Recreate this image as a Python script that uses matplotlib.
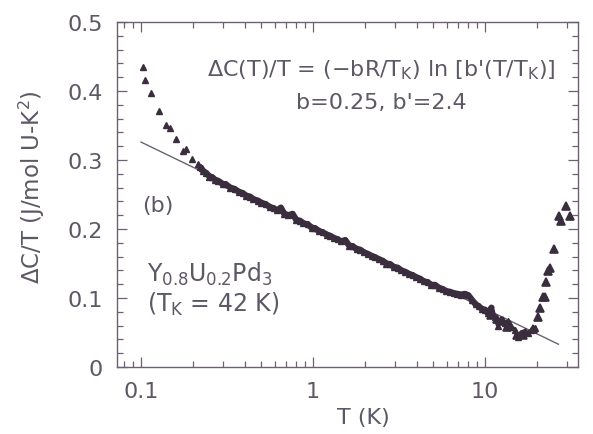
import matplotlib
matplotlib.use("Agg")
import matplotlib.pyplot as plt
from matplotlib.ticker import LogLocator, MultipleLocator, FixedLocator, NullFormatter

plt.rcParams["font.family"] = ["DejaVu Sans"]
plt.rcParams["mathtext.fontset"] = "dejavusans"

# Low-temperature upturn (K, J/mol U-K^2)
low_T = [0.102, 0.106, 0.115, 0.128, 0.139, 0.148, 0.159, 0.175, 0.183, 0.197, 0.215, 0.225]
low_y = [0.435, 0.416, 0.397, 0.371, 0.351, 0.346, 0.330, 0.313, 0.316, 0.301, 0.294, 0.289]

# Dense logarithmic region
band_T = [0.22, 0.23, 0.24, 0.25, 0.26, 0.27, 0.28, 0.30, 0.31, 0.33, 0.35, 0.37, 0.39,
          0.41, 0.43, 0.45, 0.48, 0.50, 0.53, 0.56, 0.59, 0.62, 0.65, 0.68, 0.72, 0.76,
          0.80, 0.84, 0.88, 0.93, 0.98, 1.03, 1.08, 1.14, 1.20, 1.26, 1.32, 1.39, 1.46,
          1.54, 1.62, 1.70, 1.79, 1.88, 1.98, 2.08, 2.19, 2.30, 2.42, 2.54, 2.67, 2.81,
          2.95, 3.10, 3.26, 3.43, 3.61, 3.79, 3.99, 4.19, 4.41, 4.63, 4.87, 5.12, 5.38,
          5.66, 5.95, 6.25, 6.57, 6.91, 7.26, 7.63, 8.0, 8.4, 8.8, 9.2, 9.6, 10.0, 10.4,
          10.9, 11.4, 11.9, 12.4, 13.0, 13.6, 14.2, 14.9, 15.5, 16.2, 17.0, 17.8, 18.6, 19.5]
band_y = [0.290, 0.284, 0.281, 0.276, 0.275, 0.271, 0.270, 0.265, 0.265, 0.260, 0.258, 0.254, 0.252,
          0.248, 0.247, 0.243, 0.241, 0.238, 0.236, 0.232, 0.230, 0.227, 0.231, 0.222, 0.220, 0.222,
          0.213, 0.212, 0.208, 0.207, 0.202, 0.201, 0.197, 0.195, 0.192, 0.190, 0.187, 0.185, 0.182,
          0.184, 0.176, 0.175, 0.171, 0.170, 0.166, 0.164, 0.161, 0.159, 0.156, 0.154, 0.150, 0.149,
          0.145, 0.144, 0.140, 0.138, 0.135, 0.133, 0.130, 0.128, 0.124, 0.123, 0.119, 0.119, 0.115,
          0.113, 0.110, 0.109, 0.107, 0.106, 0.105, 0.106, 0.104, 0.097, 0.091, 0.088, 0.084, 0.083, 0.078,
          0.086, 0.072, 0.060, 0.070, 0.064, 0.066, 0.058, 0.054, 0.043, 0.050, 0.052, 0.049, 0.053, 0.057]

# Scatter around the minimum and the high-temperature rise
high_T = [10.8, 11.7, 12.7, 13.4, 14.0, 15.3, 16.7, 19.1, 20.4, 20.9, 21.6, 22.3, 22.6,
          23.2, 23.9, 25.2, 26.8, 27.5, 29.6, 31.2]
high_y = [0.075, 0.070, 0.067, 0.058, 0.061, 0.047, 0.046, 0.055, 0.072, 0.086, 0.101, 0.101, 0.123,
          0.139, 0.143, 0.171, 0.219, 0.212, 0.233, 0.219]

# Fitted logarithmic law, end points
fit_T = [0.1, 26.7]
fit_y = [0.326, 0.033]

ink = "#3a2e3e"
txt = "#5e5765"
axc = "#6b6172"

fig = plt.figure(figsize=(5.93, 4.35), dpi=100)
ax = fig.add_axes([117 / 593, 67 / 435, 461 / 593, 345 / 435])

ax.plot(fit_T, fit_y, color="#6a6270", lw=1.0, zorder=2)
ax.plot(low_T, low_y, linestyle="none", marker="^", ms=5, color=ink, mec=ink, zorder=3)
# closely packed points merge into a solid band
ax.plot(band_T[:80], band_y[:80], linestyle="-", lw=4.5, solid_capstyle="round",
        marker="^", ms=4.5, color=ink, mec=ink, zorder=3)
ax.plot(band_T[79:], band_y[79:], linestyle="-", lw=3.0, solid_capstyle="round",
        marker="^", ms=5, color=ink, mec=ink, mew=1.0, zorder=3)
ax.plot(high_T, high_y, linestyle="none", marker="^", ms=5.5, color=ink, mec=ink, mew=1.2, zorder=3)

ax.set_xscale("log")
ax.set_xlim(0.0725, 34.7)
ax.set_ylim(0, 0.5)

ax.xaxis.set_major_locator(FixedLocator([0.1, 1, 10]))
ax.xaxis.set_minor_locator(LogLocator(base=10, subs=range(2, 10), numticks=20))
ax.xaxis.set_minor_formatter(NullFormatter())
ax.set_xticklabels(["0.1", "1", "10"])
ax.yaxis.set_major_locator(MultipleLocator(0.1))
ax.yaxis.set_minor_locator(MultipleLocator(0.02))
ax.set_yticks([0, 0.1, 0.2, 0.3, 0.4, 0.5])
ax.set_yticklabels(["0", "0.1", "0.2", "0.3", "0.4", "0.5"])

ax.tick_params(which="both", direction="in", top=True, right=True, color=axc,
               labelcolor=txt, labelsize=16, width=0.9, pad=10)
ax.tick_params(which="major", length=7)
ax.tick_params(which="minor", length=4)
for s in ax.spines.values():
    s.set_color(axc)
    s.set_linewidth(1.0)

ax.text((363 - 117) / 461, (368 - 418) / 345, "T (K)", transform=ax.transAxes,
        ha="center", va="center", fontsize=16, color=txt)
ax.text((32 - 117) / 461, (368 - 187) / 345, "ΔC/T (J/mol U-K$^2$)", transform=ax.transAxes,
        ha="center", va="center", rotation=90, fontsize=16.5, color=txt)

ax.text((381 - 117) / 461, (368 - 70) / 345,
        "ΔC(T)/T = (−bR/T$_\\mathregular{K}$) ln [b'(T/T$_\\mathregular{K}$)]",
        transform=ax.transAxes, ha="center", va="center", fontsize=16, color=txt)
ax.text((381 - 117) / 461, (368 - 103) / 345, "b=0.25, b'=2.4",
        transform=ax.transAxes, ha="center", va="center", fontsize=16, color=txt)
ax.text((142 - 117) / 461, (368 - 206) / 345, "(b)",
        transform=ax.transAxes, ha="left", va="center", fontsize=16, color=txt)
ax.text((147 - 117) / 461, (368 - 282) / 345, "Y$_\\mathregular{0.8}$U$_\\mathregular{0.2}$Pd$_\\mathregular{3}$",
        transform=ax.transAxes, ha="left", va="baseline", fontsize=17, color=txt)
ax.text((147 - 117) / 461, (368 - 312) / 345, "(T$_\\mathregular{K}$ = 42 K)",
        transform=ax.transAxes, ha="left", va="baseline", fontsize=17, color=txt)

fig.savefig("out.png", dpi=100)
